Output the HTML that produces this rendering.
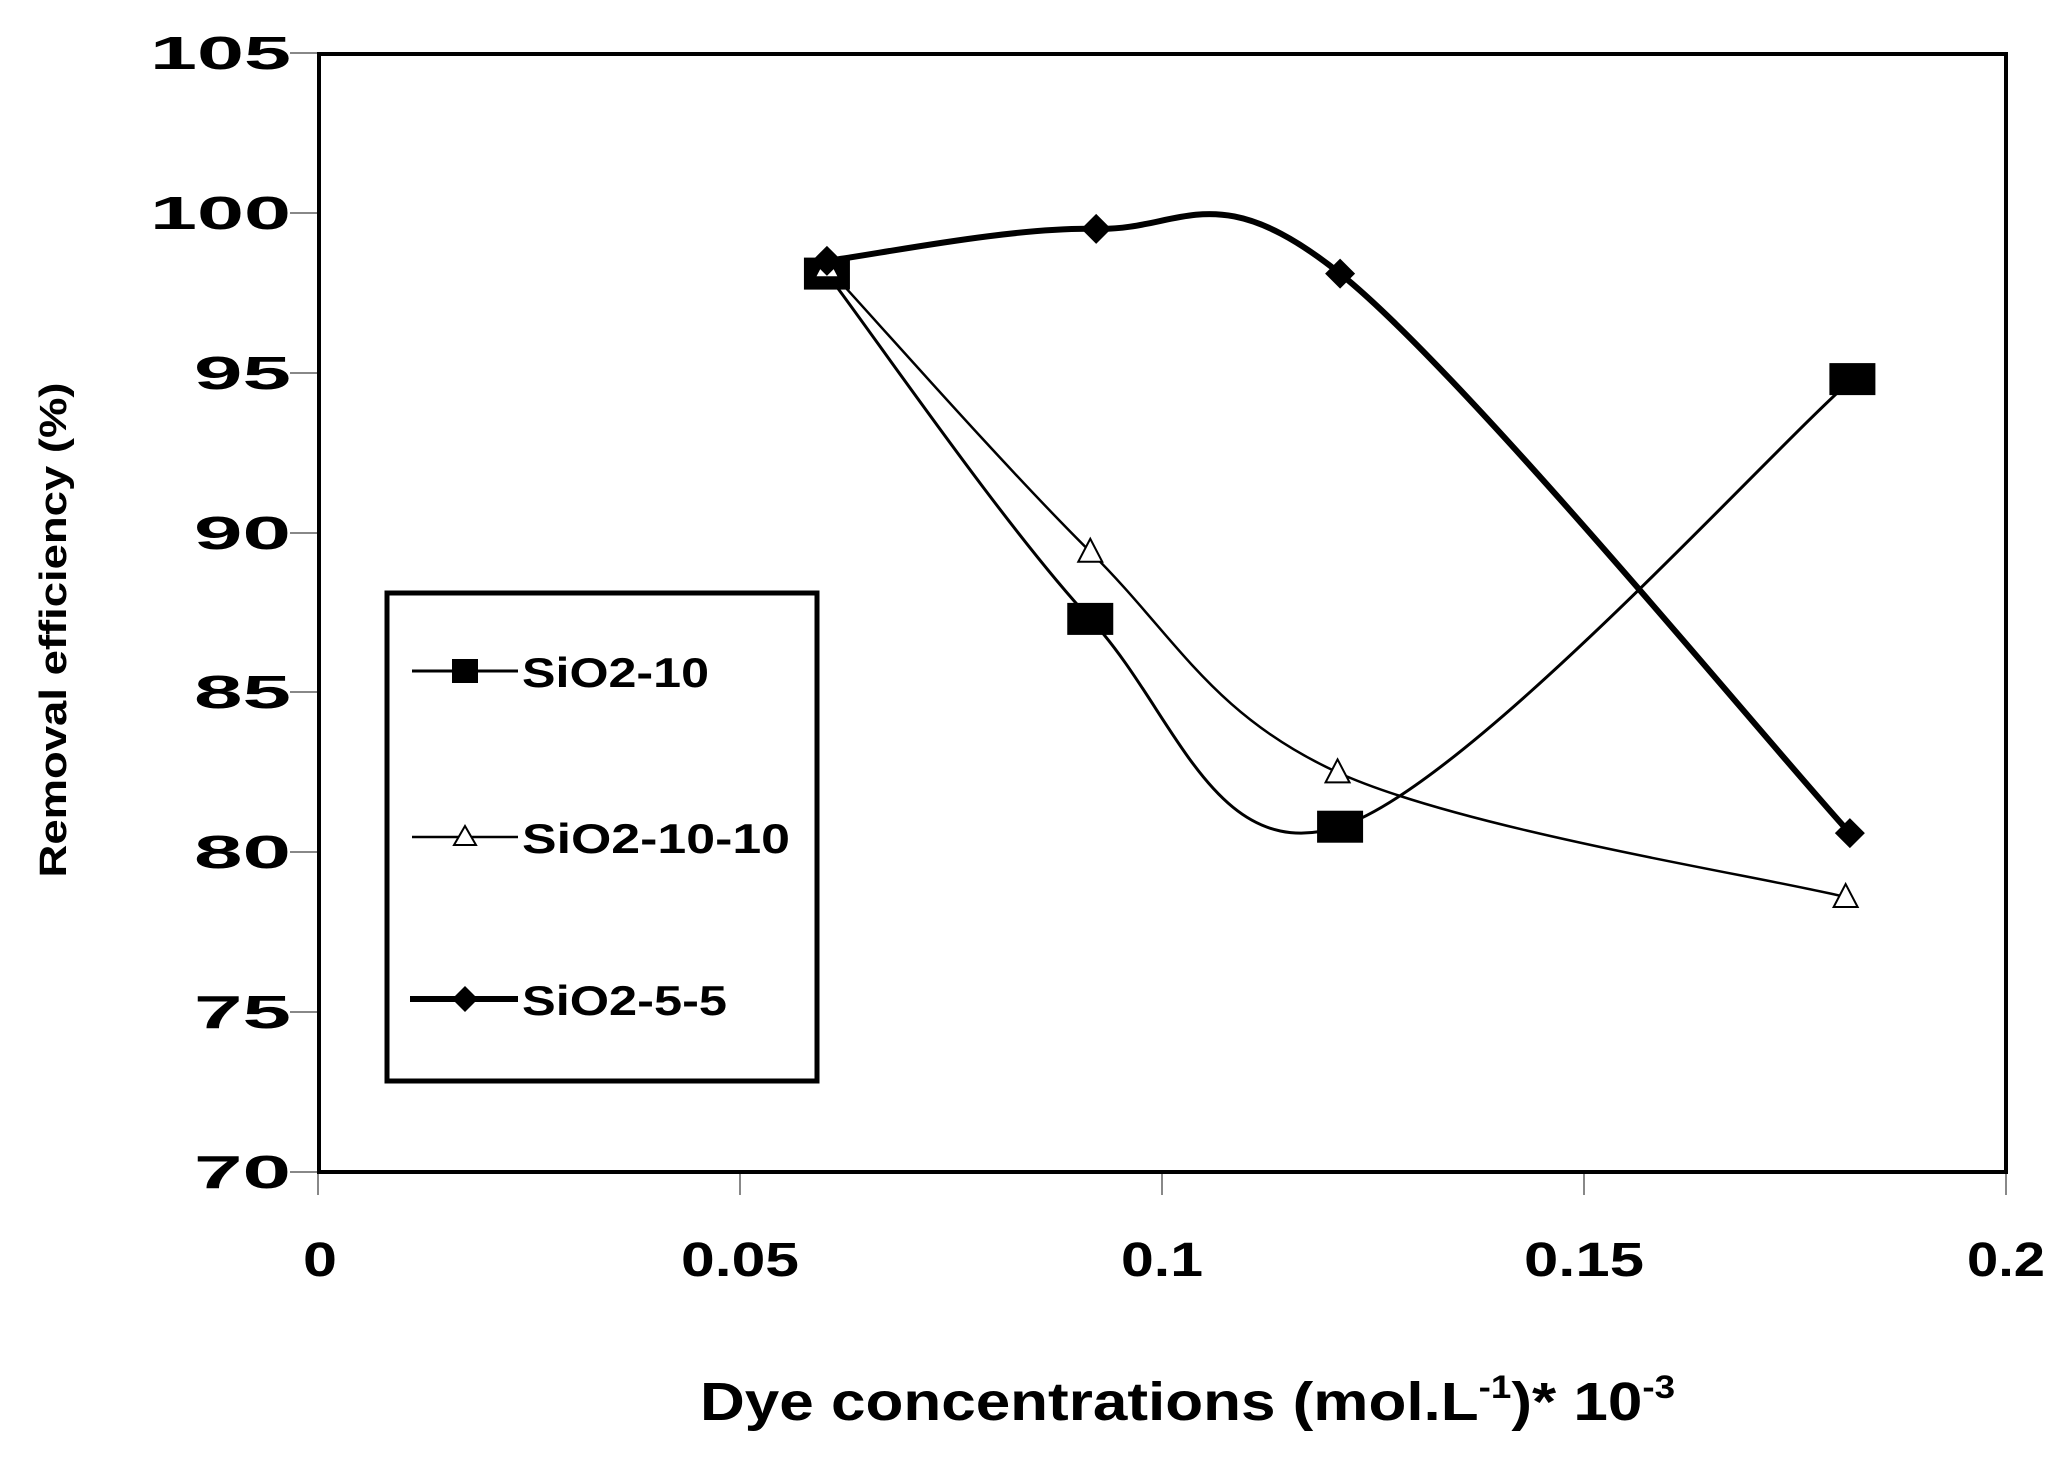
<!DOCTYPE html>
<html><head><meta charset="utf-8"><style>
html,body{margin:0;padding:0;background:#fff;width:2071px;height:1469px;overflow:hidden}
svg text{font-family:"Liberation Sans",sans-serif;font-weight:bold;fill:#000}
</style></head><body>
<svg id="s" width="2071" height="1469" viewBox="0 0 2071 1469">
<rect x="0" y="0" width="2071" height="1469" fill="#fff"/>
<g stroke="#888" stroke-width="2">
<line x1="290" y1="53" x2="318" y2="53"/><line x1="290" y1="213" x2="318" y2="213"/>
<line x1="290" y1="373" x2="318" y2="373"/><line x1="290" y1="533" x2="318" y2="533"/>
<line x1="290" y1="692" x2="318" y2="692"/><line x1="290" y1="852" x2="318" y2="852"/>
<line x1="290" y1="1012" x2="318" y2="1012"/><line x1="290" y1="1172" x2="318" y2="1172"/>
<line x1="318" y1="1172" x2="318" y2="1195"/><line x1="740" y1="1172" x2="740" y2="1195"/>
<line x1="1162" y1="1172" x2="1162" y2="1195"/><line x1="1584" y1="1172" x2="1584" y2="1195"/>
<line x1="2006" y1="1172" x2="2006" y2="1195"/>
</g>
<rect x="319" y="54" width="1687" height="1118" fill="none" stroke="#000" stroke-width="4"/>
<g font-size="46" text-anchor="end">
<text x="291" y="69" textLength="141" lengthAdjust="spacingAndGlyphs">105</text>
<text x="291" y="229" textLength="141" lengthAdjust="spacingAndGlyphs">100</text>
<text x="291" y="389" textLength="97" lengthAdjust="spacingAndGlyphs">95</text>
<text x="291" y="549" textLength="97" lengthAdjust="spacingAndGlyphs">90</text>
<text x="291" y="708" textLength="97" lengthAdjust="spacingAndGlyphs">85</text>
<text x="291" y="868" textLength="97" lengthAdjust="spacingAndGlyphs">80</text>
<text x="291" y="1028" textLength="97" lengthAdjust="spacingAndGlyphs">75</text>
<text x="291" y="1188" textLength="97" lengthAdjust="spacingAndGlyphs">70</text>
</g>
<g font-size="48" text-anchor="middle">
<text x="320" y="1276" textLength="34" lengthAdjust="spacingAndGlyphs">0</text>
<text x="740" y="1276" textLength="118" lengthAdjust="spacingAndGlyphs">0.05</text>
<text x="1162" y="1276" textLength="82" lengthAdjust="spacingAndGlyphs">0.1</text>
<text x="1584" y="1276" textLength="120" lengthAdjust="spacingAndGlyphs">0.15</text>
<text x="2006" y="1276" textLength="78" lengthAdjust="spacingAndGlyphs">0.2</text>
</g>
<text x="700" y="1420" font-size="54" textLength="975" lengthAdjust="spacingAndGlyphs">Dye concentrations (mol.L<tspan font-size="32" dy="-22">-1</tspan><tspan dy="22">)* 10</tspan><tspan font-size="32" dy="-22">-3</tspan></text>
<text transform="translate(66,630) rotate(-90)" font-size="38" text-anchor="middle" textLength="495" lengthAdjust="spacingAndGlyphs">Removal efficiency (%)</text>
<g id="series"></g>
<rect x="387" y="593" width="430" height="488" fill="#fff" stroke="#000" stroke-width="5"/>
<line x1="412" y1="671" x2="518" y2="671" stroke="#000" stroke-width="3"/>
<rect x="452" y="659" width="26" height="24" fill="#000"/>
<text x="522" y="687" font-size="42" textLength="187" lengthAdjust="spacingAndGlyphs">SiO2-10</text>
<line x1="412" y1="837" x2="518" y2="837" stroke="#000" stroke-width="2.5"/>
<polygon points="465,826 476,845 454,845" fill="#fff" stroke="#000" stroke-width="2"/>
<text x="522" y="853" font-size="42" textLength="268" lengthAdjust="spacingAndGlyphs">SiO2-10-10</text>
<line x1="410" y1="999" x2="518" y2="999" stroke="#000" stroke-width="6"/>
<polygon points="465,986 478,999 465,1012 452,999" fill="#000"/>
<text x="522" y="1015" font-size="42" textLength="205" lengthAdjust="spacingAndGlyphs">SiO2-5-5</text>
</svg>
<script>
function X(v){return 318+v/0.2*1688}
function Y(v){return 1172-(v-70)/35*1119}
function path(pts){
 var p=pts.map(function(a){return [X(a[0]),Y(a[1])]});
 var d="M"+p[0][0]+","+p[0][1];
 for(var i=0;i<p.length-1;i++){
  var p0=p[i-1]||p[i],p1=p[i],p2=p[i+1],p3=p[i+2]||p[i+1];
  var c1=[p1[0]+(p2[0]-p0[0])/6,p1[1]+(p2[1]-p0[1])/6];
  var c2=[p2[0]-(p3[0]-p1[0])/6,p2[1]-(p3[1]-p1[1])/6];
  d+=" C"+c1+" "+c2+" "+p2;
 }
 return d;
}
var a=[[0.0603,98.1],[0.0915,87.3],[0.1211,80.8],[0.1818,94.8]];
var b=[[0.0603,98.3],[0.0915,89.4],[0.1208,82.5],[0.181,78.6]];
var c=[[0.0603,98.5],[0.0922,99.5],[0.1211,98.1],[0.1815,80.6]];
var h="";
h+='<path d="'+path(a)+'" fill="none" stroke="#000" stroke-width="3"/>';
h+='<path d="'+path(b)+'" fill="none" stroke="#000" stroke-width="2.5"/>';
h+='<path d="'+path(c)+'" fill="none" stroke="#000" stroke-width="6"/>';
a.forEach(function(q){var x=X(q[0]),y=Y(q[1]);h+='<rect x="'+(x-23)+'" y="'+(y-16)+'" width="46" height="32" fill="#000"/>';});
b.forEach(function(q){var x=X(q[0]),y=Y(q[1]);h+='<polygon points="'+x+','+(y-13)+' '+(x+12)+','+(y+10)+' '+(x-12)+','+(y+10)+'" fill="#fff" stroke="#000" stroke-width="2"/>';});
c.forEach(function(q){var x=X(q[0]),y=Y(q[1]);h+='<polygon points="'+x+','+(y-15)+' '+(x+15)+','+y+' '+x+','+(y+15)+' '+(x-15)+','+y+'" fill="#000"/>';});
document.getElementById("series").innerHTML=h;
</script>
</body></html>
